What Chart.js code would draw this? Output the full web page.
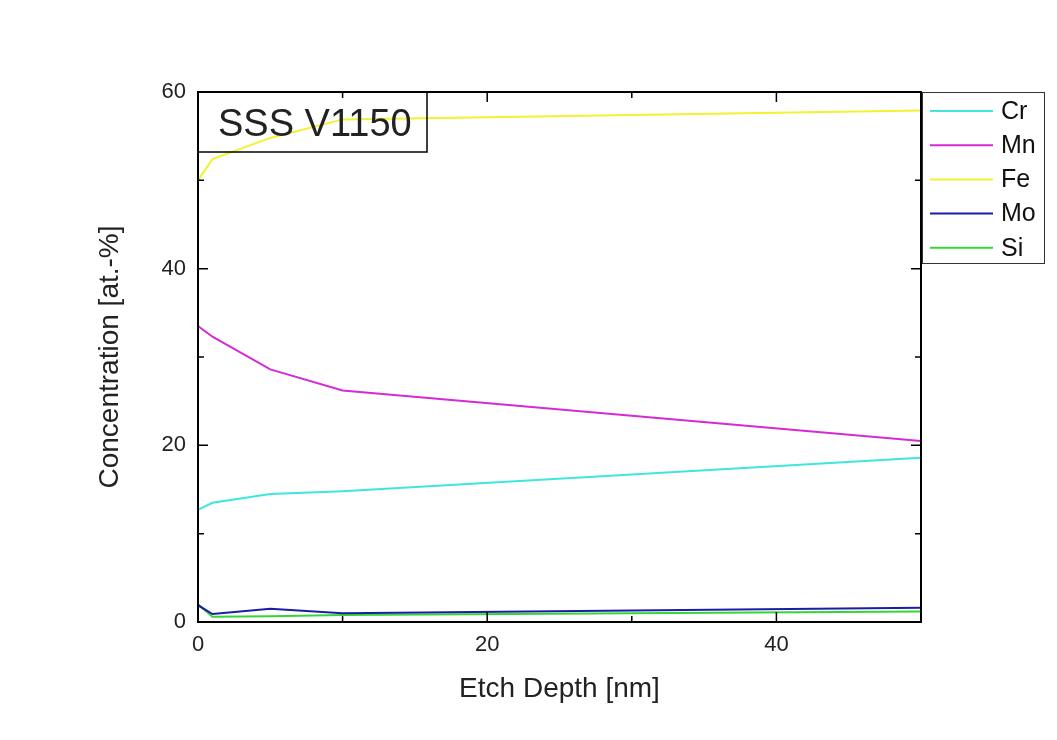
<!DOCTYPE html>
<html>
<head>
<meta charset="utf-8">
<title>SSS V1150 depth profile</title>
<script src="https://cdn.jsdelivr.net/npm/chart.js@4.4.1/dist/chart.umd.min.js"></script>
<style>
  html, body { margin: 0; padding: 0; background: #ffffff; }
  #wrap { width: 1057px; height: 740px; }
</style>
</head>
<body>
<div id="wrap"><canvas id="c" width="1057" height="740"></canvas></div>
<script>
// Etch depth (nm) at which each spectrum was taken
const depth = [0, 1, 5, 10, 50];

// Concentrations in at.-%
const cr = [12.7, 13.5, 14.5, 14.8, 18.6];
const mn = [33.5, 32.3, 28.6, 26.2, 20.5];
const fe = [50.0, 52.4, 54.8, 56.9, 57.9];
const mo = [1.9, 0.9, 1.5, 1.0, 1.6];
const si = [2.0, 0.6, 0.65, 0.8, 1.2];

const seriesNames = ['Cr', 'Mn', 'Fe', 'Mo', 'Si'];
const seriesValues = [cr, mn, fe, mo, si];
const seriesColors = ['#3ee6e0', '#d62ad6', '#f2f230', '#1c1ca8', '#34d634'];

const xTicks = [0, 20, 40];
const xMinor = [10, 30, 50];
const yTicks = [0, 20, 40, 60];
const yMinor = [10, 30, 50];

const sampleName = 'SSS V1150';

const FONT = '"Liberation Sans", Arial, Helvetica, sans-serif';

const datasets = seriesNames.map((name, i) => ({
  label: name,
  data: depth.map((d, j) => ({ x: d, y: seriesValues[i][j] })),
  borderColor: seriesColors[i],
  backgroundColor: seriesColors[i],
  borderWidth: 2,
  pointRadius: 0,
  tension: 0,
  fill: false
}));

// Box frame with inward ticks, sample label and legend
const framePlugin = {
  id: 'frame',
  afterDatasetsDraw(chart) {
    const { ctx, chartArea: a, scales: { x, y } } = chart;
    ctx.save();
    ctx.strokeStyle = '#000';
    ctx.lineWidth = 2;
    ctx.strokeRect(a.left, a.top, a.right - a.left, a.bottom - a.top);

    const major = 10, minor = 6;
    ctx.lineWidth = 1.5;
    ctx.beginPath();
    const xt = (v, len) => {
      const px = x.getPixelForValue(v);
      ctx.moveTo(px, a.bottom); ctx.lineTo(px, a.bottom - len);
      ctx.moveTo(px, a.top); ctx.lineTo(px, a.top + len);
    };
    const yt = (v, len) => {
      const py = y.getPixelForValue(v);
      ctx.moveTo(a.left, py); ctx.lineTo(a.left + len, py);
      ctx.moveTo(a.right, py); ctx.lineTo(a.right - len, py);
    };
    xTicks.forEach(v => xt(v, major));
    xMinor.forEach(v => xt(v, minor));
    yTicks.forEach(v => yt(v, major));
    yMinor.forEach(v => yt(v, minor));
    ctx.stroke();

    // sample label box (outline only)
    ctx.lineWidth = 1.5;
    ctx.strokeRect(a.left, a.top, 229, 60);
    ctx.fillStyle = '#222';
    ctx.font = '38px ' + FONT;
    ctx.textBaseline = 'middle';
    ctx.textAlign = 'left';
    ctx.fillText(sampleName, a.left + 20, a.top + 34);

    // legend
    const lx = a.right + 1, ly = a.top;
    ctx.fillStyle = '#fff';
    ctx.fillRect(lx, ly, 122, 171);
    ctx.strokeStyle = '#333';
    ctx.lineWidth = 1;
    ctx.strokeRect(lx + 0.5, ly + 0.5, 122, 171);
    ctx.font = '25px ' + FONT;
    ctx.fillStyle = '#111';
    chart.data.datasets.forEach((ds, i) => {
      const yy = ly + 19 + i * 34.2;
      ctx.strokeStyle = ds.borderColor;
      ctx.lineWidth = 2;
      ctx.beginPath();
      ctx.moveTo(lx + 8, yy);
      ctx.lineTo(lx + 71, yy);
      ctx.stroke();
      ctx.fillText(ds.label, lx + 79, yy + 1);
    });
    ctx.restore();
  }
};

new Chart(document.getElementById('c'), {
  type: 'line',
  data: { datasets },
  plugins: [framePlugin],
  options: {
    responsive: false,
    animation: false,
    devicePixelRatio: 1,
    layout: { padding: { top: 92, right: 136, left: 0, bottom: 0 } },
    plugins: { legend: { display: false }, tooltip: { enabled: false } },
    scales: {
      x: {
        type: 'linear',
        min: 0, max: 50,
        afterFit(s) { s.height = 118; },
        afterBuildTicks(s) { s.ticks = xTicks.map(v => ({ value: v })); },
        grid: { display: false, drawTicks: false },
        border: { display: false },
        ticks: { color: '#222', font: { family: FONT, size: 22 }, padding: 10, maxRotation: 0 },
        title: { display: true, text: 'Etch Depth [nm]', color: '#222', font: { family: FONT, size: 28 }, padding: { top: 0, bottom: 34 } }
      },
      y: {
        type: 'linear',
        min: 0, max: 60,
        afterFit(s) { s.width = 198; },
        afterBuildTicks(s) { s.ticks = yTicks.map(v => ({ value: v })); },
        grid: { display: false, drawTicks: false },
        border: { display: false },
        ticks: { color: '#222', font: { family: FONT, size: 22 }, padding: 12 },
        title: { display: true, text: 'Concentration [at.-%]', color: '#222', font: { family: FONT, size: 28 }, padding: { top: 93, bottom: 0 } }
      }
    }
  }
});
</script>
</body>
</html>
